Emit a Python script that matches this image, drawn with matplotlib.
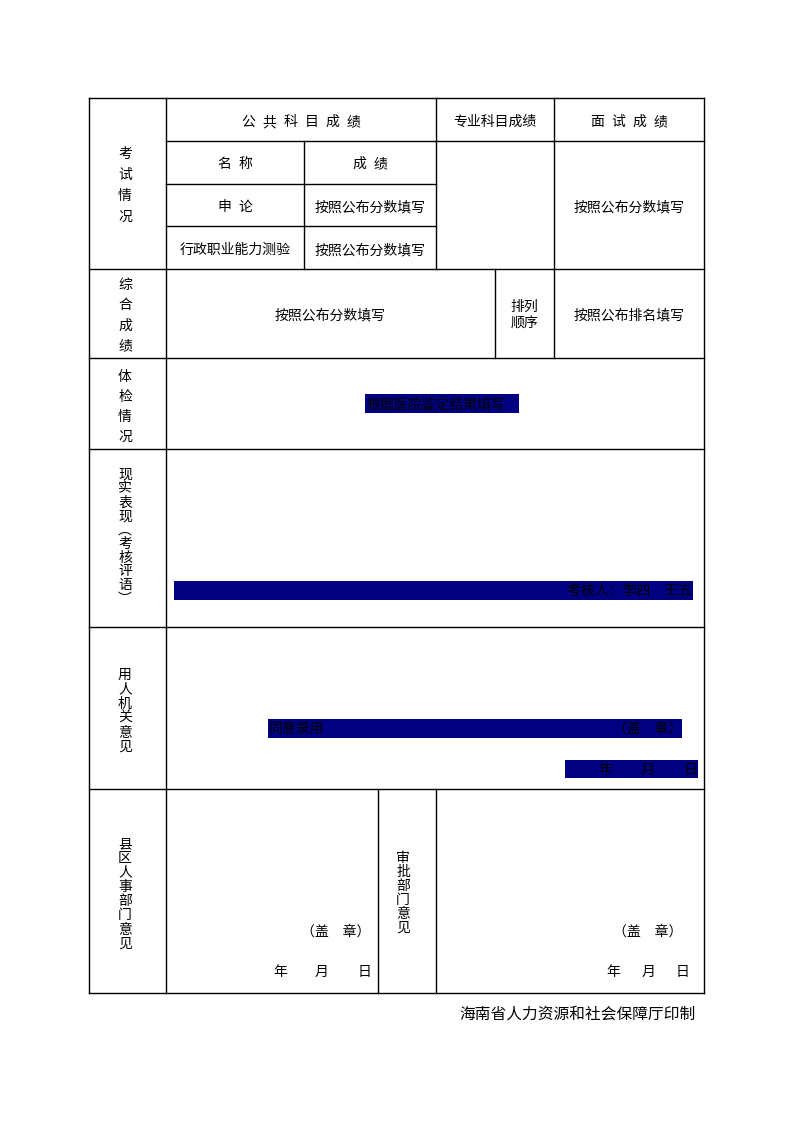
"""
Recreation of the Hainan civil-service hiring review form (考察表) as a figure.
The page is drawn in pixel coordinates on a single axes that fills the figure.
"""

import matplotlib

matplotlib.use("Agg")
import matplotlib.pyplot as plt
from matplotlib.patches import Rectangle

plt.rcParams["font.family"] = ["Noto Sans CJK SC", "DejaVu Sans"]

# ---- form texts -----------------------------------------------------------
row_labels = ["考试情况", "综合成绩", "体检情况", "现实表现︵考核评语︶", "用人机关意见", "县区人事部门意见"]
approval_label = "审批部门意见"

public_header = "公共科目成绩"
major_header = "专业科目成绩"
interview_header = "面试成绩"
sub_headers = ["名称", "成绩"]
subjects = ["申论", "行政职业能力测验"]
score_note = "按照公布分数填写"
rank_label = ["排列", "顺序"]
rank_note = "按照公布排名填写"
physical_note = "根据医院鉴定结果填写"
assessors = "考核人：李四　王五"
employer_opinion = "同意录用"
seal = "（盖　章）"
date_chars = ["年", "月", "日"]
footer = "海南省人力资源和社会保障厅印制"

# ---- layout (pixels) ------------------------------------------------------
W, H = 794, 1123
X0, X1 = 89, 704
XL = 166
NAVY = "#000080"
FS = 10
DY = 2  # baseline nudge so glyphs sit where the reference has them

fig = plt.figure(figsize=(W / 100, H / 100), dpi=100)
ax = fig.add_axes([0, 0, 1, 1])
ax.set_xlim(0, W)
ax.set_ylim(H, 0)
ax.axis("off")


def hline(y, xa=X0, xb=X1):
    ax.plot([xa, xb], [y, y], color="black", lw=1.0, solid_capstyle="projecting")


def vline(x, ya, yb):
    ax.plot([x, x], [ya, yb], color="black", lw=1.0, solid_capstyle="projecting")


def txt(x, y, s, ha="center", fs=FS):
    ax.text(x, y + DY, s, ha=ha, va="center", fontsize=fs, color="black")


def spaced(s, cx, cy, pitch=21):
    n = len(s)
    for i, ch in enumerate(s):
        txt(cx + (i - (n - 1) / 2) * pitch, cy, ch)


def vertical(s, cx, ytop, ybot):
    n = len(s)
    step = (ybot - ytop) / (n - 1)
    for i, ch in enumerate(s):
        txt(cx, ytop + i * step, ch)


def band(xa, ya, xb, yb):
    ax.add_patch(Rectangle((xa, ya), xb - xa, yb - ya, color=NAVY, lw=0))


# grid
for y in [98, 269, 358, 449, 627, 789, 993]:
    hline(y)
hline(141, XL, X1)
hline(184, XL, 436)
hline(226, XL, 436)
vline(X0, 98, 993)
vline(X1, 98, 993)
vline(XL, 98, 993)
vline(304, 141, 269)
vline(436, 98, 269)
vline(554, 98, 358)
vline(495, 269, 358)
vline(378, 789, 993)
vline(436, 789, 993)

# left labels
LX = 125
vertical(row_labels[0], LX, 152, 215)
vertical(row_labels[1], LX, 283, 344)
vertical(row_labels[2], LX, 375, 435)
vertical(row_labels[3], LX, 473, 597)
vertical(row_labels[4], LX, 673, 745)
vertical(row_labels[5], LX, 842, 942)
vertical(approval_label, 403, 856, 926)

# exam block
spaced(public_header, 301, 120)
txt(495, 120, major_header)
spaced(interview_header, 629, 120)
spaced(sub_headers[0], 235, 162)
spaced(sub_headers[1], 370, 162)
spaced(subjects[0], 235, 205)
txt(235, 248, subjects[1])
txt(370, 205, score_note)
txt(370, 248, score_note)
txt(629, 205, score_note)

# overall score row
txt(330, 313, score_note)
txt(524, 305, rank_label[0])
txt(524, 322, rank_label[1])
txt(629, 313, rank_note)

# physical exam
band(365, 394, 519, 413)
txt(366, 402, physical_note, ha="left")

# assessment
band(174, 581, 693, 600)
txt(692, 589, assessors, ha="right")

# employer opinion
band(268, 719, 682, 738)
txt(269, 727, employer_opinion, ha="left")
txt(682, 727, seal, ha="right")
band(565, 760, 698, 778)
for x, ch in zip([605, 648, 690], date_chars):
    txt(x, 768, ch)

# county & approval
txt(336, 930, seal)
for x, ch in zip([280, 322, 364], date_chars):
    txt(x, 970, ch)
txt(648, 930, seal)
for x, ch in zip([613, 649, 683], date_chars):
    txt(x, 970, ch)

txt(696, 1012, footer, ha="right", fs=11.3)

fig.savefig("out.png", dpi=100)
